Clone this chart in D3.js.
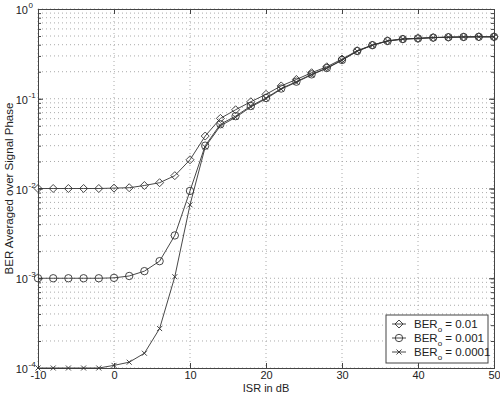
<!DOCTYPE html>
<html><head><meta charset="utf-8">
<script src="https://cdn.jsdelivr.net/npm/d3@7"></script>
<style>body{margin:0;background:#fff}svg{display:block}text{font-family:"Liberation Sans",Arial,sans-serif}</style>
</head><body>
<svg id="c" width="500" height="394"></svg>
<script>
const isr = [-10,-8,-6,-4,-2,0,2,4,6,8,10,12,14,16,18,20,22,24,26,28,30,32,34,36,38,40,42,44,46,48,50];
const ber01 = [0.01,0.01,0.01,0.01,0.01,0.0101,0.0102,0.0108,0.0116,0.0139,0.0209,0.0384,0.0604,0.0754,0.0926,0.112,0.139,0.164,0.195,0.227,0.277,0.343,0.397,0.443,0.463,0.471,0.48,0.485,0.488,0.49,0.49];
const ber001 = [0.001,0.001,0.001,0.001,0.001,0.00101,0.00106,0.0012,0.00155,0.0030,0.0094,0.030,0.052,0.064,0.083,0.102,0.13,0.155,0.187,0.22,0.27,0.34,0.395,0.44,0.462,0.47,0.48,0.485,0.488,0.49,0.49];
const ber0001 = [0.0001,0.0001,0.0001,0.0001,0.0001,0.000107,0.000116,0.000146,0.000275,0.00104,0.00658,0.029,0.050,0.062,0.081,0.10,0.128,0.153,0.185,0.218,0.268,0.338,0.394,0.44,0.462,0.47,0.48,0.485,0.488,0.49,0.49];
const xTicks = [-10,0,10,20,30,40,50];
const yDecades = [-4,-3,-2,-1,0];
const legendLabels = ["0.01","0.001","0.0001"];
const markers = ["diamond","circle","cross"];

const svg = d3.select("#c");
const L=38, R=494, T=9, B=368;
const x = d3.scaleLinear().domain([-10,50]).range([L,R]);
const y = d3.scaleLog().domain([1e-4,1]).range([B,T]);

// grid
const g = svg.append("g");
const minor = [];
for (let d=-4; d<0; d++) for (let m=1; m<10; m++) minor.push(m*Math.pow(10,d));
minor.push(1);
g.selectAll(".hg").data(minor).enter().append("line")
 .attr("x1",L).attr("x2",R).attr("y1",d=>y(d)).attr("y2",d=>y(d))
 .attr("stroke","#aaa").attr("stroke-width",1).attr("stroke-dasharray","1,3");
g.selectAll(".vg").data(xTicks).enter().append("line")
 .attr("y1",T).attr("y2",B).attr("x1",d=>x(d)).attr("x2",d=>x(d))
 .attr("stroke","#aaa").attr("stroke-width",1).attr("stroke-dasharray","1,3");

// axes with inward ticks
const axB = d3.axisBottom(x).tickValues(xTicks).tickSize(-5).tickPadding(3).tickFormat(d=>String(d));
const axT = d3.axisTop(x).tickValues(xTicks).tickSize(-5).tickFormat("");
const axL = d3.axisLeft(y).tickValues(minor).tickSize(-3).tickFormat("");
const axR = d3.axisRight(y).tickValues(minor).tickSize(-3).tickFormat("");
const axLM = d3.axisLeft(y).tickValues(yDecades.map(e=>Math.pow(10,e))).tickSize(-5).tickFormat("");
const axRM = d3.axisRight(y).tickValues(yDecades.map(e=>Math.pow(10,e))).tickSize(-5).tickFormat("");
function style(sel){sel.selectAll("path").attr("stroke","#444");sel.selectAll("line").attr("stroke","#444");sel.selectAll("text").attr("fill","#222").style("font-size","11px");}
svg.append("g").attr("transform",`translate(0,${B})`).call(axB).call(style);
svg.append("g").attr("transform",`translate(0,${T})`).call(axT).call(style);
svg.append("g").attr("transform",`translate(${L},0)`).call(axL).call(style);
svg.append("g").attr("transform",`translate(${R},0)`).call(axR).call(style);
svg.append("g").attr("transform",`translate(${L},0)`).call(axLM).call(style);
svg.append("g").attr("transform",`translate(${R},0)`).call(axRM).call(style);

// y tick labels
svg.append("g").selectAll("text").data(yDecades).enter().append("text")
 .attr("x",28).attr("y",d=>y(Math.pow(10,d))+5).attr("text-anchor","end")
 .attr("fill","#222").style("font-size","11px").text("10");
svg.append("g").selectAll("text").data(yDecades).enter().append("text")
 .attr("x",28.5).attr("y",d=>y(Math.pow(10,d))-1).attr("text-anchor","start")
 .attr("fill","#222").style("font-size","8px").text(d=>d===0?"0":"-"+(-d));

// axis titles
svg.append("text").attr("x",(L+R)/2).attr("y",392).attr("text-anchor","middle")
 .attr("fill","#222").style("font-size","11px").text("ISR in dB");
svg.append("text").attr("transform",`translate(13,${(T+B)/2}) rotate(-90)`).attr("text-anchor","middle")
 .attr("fill","#222").style("font-size","11.5px").text("BER Averaged over Signal Phase");

// markers
function drawMarker(sel, type){
  if(type==="diamond") sel.append("path").attr("d","M0,-4L4,0L0,4L-4,0Z").attr("fill","none").attr("stroke","#333").attr("stroke-width",0.9);
  else if(type==="circle") sel.append("circle").attr("r",3.7).attr("fill","none").attr("stroke","#333").attr("stroke-width",0.9);
  else sel.append("path").attr("d","M-2.5,-2.5L2.5,2.5M-2.5,2.5L2.5,-2.5").attr("stroke","#333").attr("stroke-width",0.9);
}
const series = [ber01, ber001, ber0001];
const line = d3.line().x((d,i)=>x(isr[i])).y(d=>y(d));
series.forEach((s,k)=>{
  svg.append("path").datum(s).attr("d",line).attr("fill","none").attr("stroke","#333").attr("stroke-width",0.9);
  svg.append("g").selectAll("g").data(s).enter().append("g")
   .attr("transform",(d,i)=>`translate(${x(isr[i])},${y(d)})`)
   .each(function(){drawMarker(d3.select(this), markers[k]);});
});

// legend
const lg = svg.append("g").attr("transform","translate(386,315)");
lg.append("rect").attr("width",102).attr("height",48).attr("fill","#fff").attr("stroke","#444").attr("stroke-width",1);
legendLabels.forEach((lab,k)=>{
  const yy = 9+k*14;
  const row = lg.append("g").attr("transform",`translate(0,${yy})`);
  row.append("line").attr("x1",6).attr("x2",20).attr("y1",0).attr("y2",0).attr("stroke","#333").attr("stroke-width",0.9);
  const m = row.append("g").attr("transform","translate(13,0)");
  drawMarker(m, markers[k]);
  const t = row.append("text").attr("x",28).attr("y",4).attr("fill","#222").style("font-size","11.5px");
  t.append("tspan").text("BER");
  t.append("tspan").attr("dy",4).style("font-size","8px").text("o");
  t.append("tspan").attr("dy",-4).text(" = "+lab);
});
</script>
</body></html>
